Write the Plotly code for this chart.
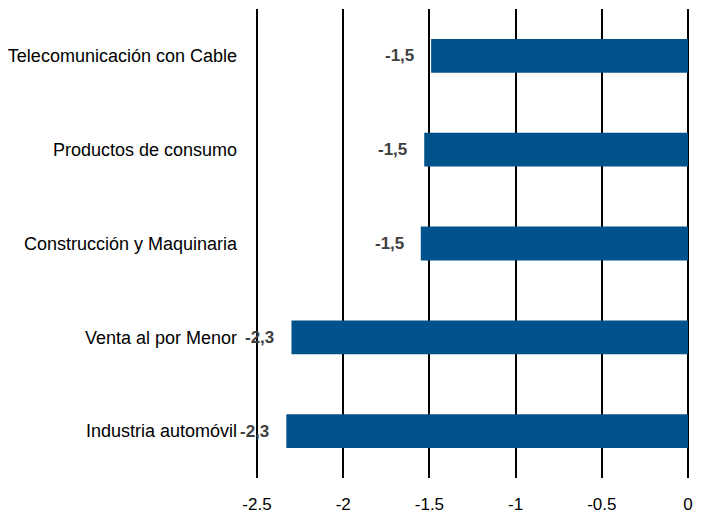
import plotly.graph_objects as go

categories = ["Industria automóvil", "Venta al por Menor", "Construcción y Maquinaria",
              "Productos de consumo", "Telecomunicación con Cable"]
values = [-2.33, -2.30, -1.55, -1.53, -1.49]
value_labels = ["-2,3", "-2,3", "-1,5", "-1,5", "-1,5"]
tick_vals = [-2.5, -2, -1.5, -1, -0.5, 0]
tick_text = ["-2.5", "-2", "-1.5", "-1", "-0.5", "0"]

FONT = "Liberation Sans Narrow, Arial Narrow, Liberation Sans, Arial"

fig = go.Figure()
fig.add_trace(go.Bar(
    y=categories, x=values, orientation="h",
    marker=dict(color="#00538a", line=dict(width=0)),
    width=0.36, hoverinfo="skip",
))
for c, v, t in zip(categories, values, value_labels):
    fig.add_annotation(x=v, y=c, text="<b>" + t + "</b>", showarrow=False,
                       xanchor="right", yanchor="middle", xshift=-15,
                       font=dict(family=FONT, size=17, color="#404040"))

fig.update_layout(
    width=708, height=513,
    margin=dict(l=247, r=26, t=1, b=43),
    paper_bgcolor="white", plot_bgcolor="white",
    showlegend=False,
    font=dict(family=FONT, size=17, color="#000000"),
    xaxis=dict(range=[-2.5116, 0.0116], tickvals=tick_vals, ticktext=tick_text,
               showgrid=True, gridcolor="#000000", gridwidth=1.5,
               zeroline=True, zerolinecolor="#000000", zerolinewidth=1.5,
               showline=False, ticks="", tickfont=dict(size=17),
               ticklabelstandoff=14),
    yaxis=dict(showgrid=False, zeroline=False, showline=False, ticks="",
               ticklabelstandoff=17, tickfont=dict(size=18)),
)
fig.write_html("out.html")
